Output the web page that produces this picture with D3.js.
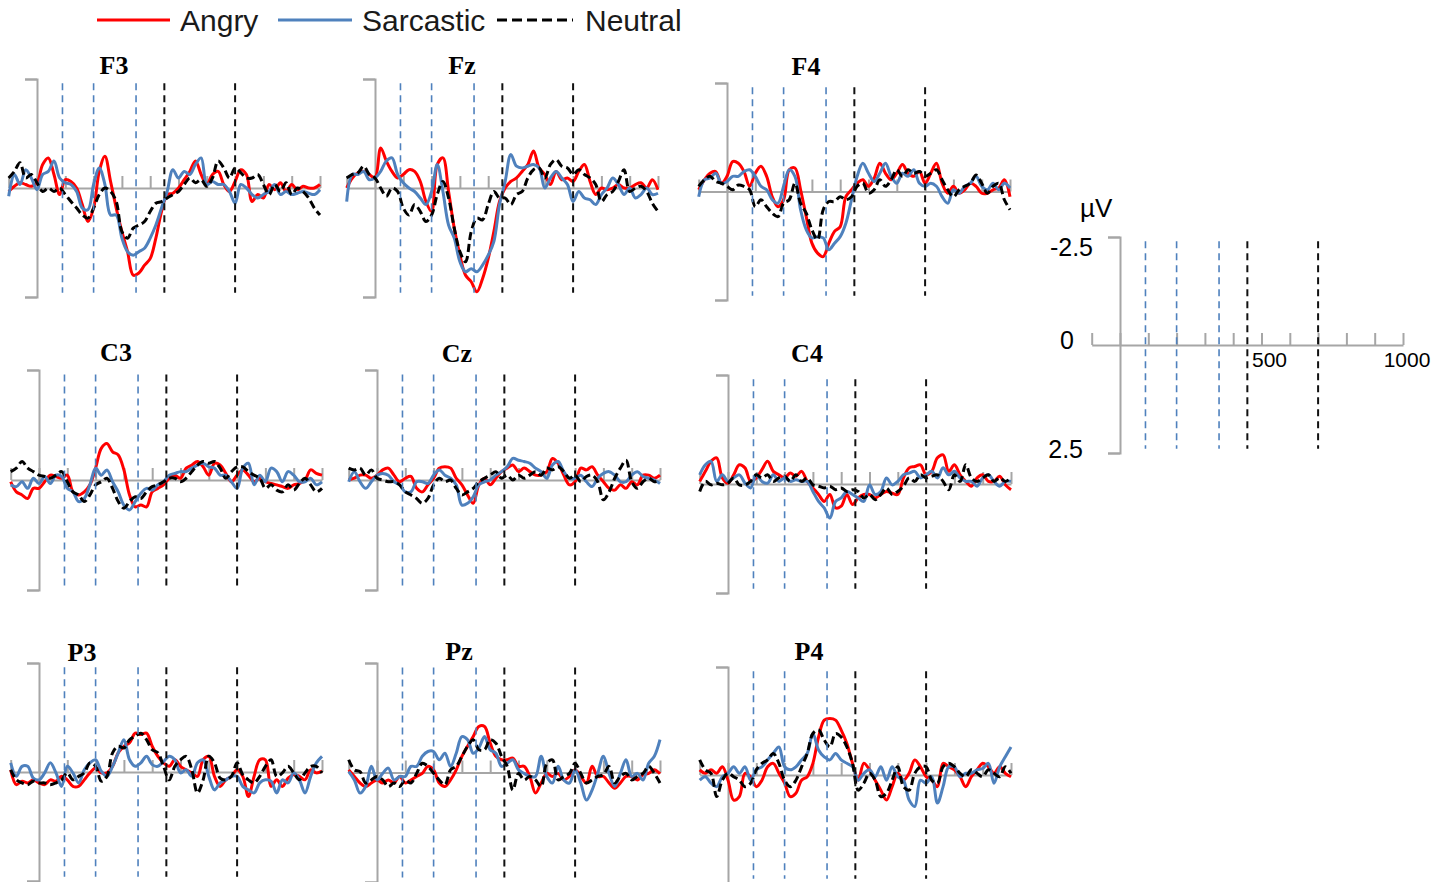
<!DOCTYPE html>
<html lang="en">
<head>
<meta charset="UTF-8">
<title>ERP waveforms</title>
<script src="https://d3js.org/d3.v7.min.js"></script>
<style>
  body { margin: 0; background: #fff; }
  svg { display: block; }
</style>
</head>
<body>
<svg id="chart" width="1450" height="882"></svg>
<script>
  // sampling grid (ms)
  var times = [-100, -80, -60, -40, -20, 0, 20, 40, 60, 80, 100, 120, 140, 160, 180, 200, 220, 240, 260, 280,
    300, 320, 340, 360, 380, 400, 420, 440, 460, 480, 500, 520, 540, 560, 580, 600, 620, 640, 660, 680,
    700, 720, 740, 760, 780, 800, 820, 840, 860, 880, 900, 920, 940, 960, 980, 1000];

  var xTicks = [-100, 0, 100, 200, 300, 400, 500, 600, 700, 800, 900, 1000];
  var xLabels = [500, 1000];
  var yLabels = [-2.5, 0, 2.5];
  var windowsBlue = [90, 200, 350];
  var windowsBlack = [450, 700];

  var conditions = ["Angry", "Sarcastic", "Neutral"];

  // amplitudes in µV (negative plotted up)
  var F3_angry = [0.08, -0.04, -0.12, -0.08, -0.04, -0.12, -0.54, -0.69, -0.31, 0.15, -0.19, -0.15, 0, 0.38, 0.77, 0.46, -0.38, -0.73, -0.15, 0.46,
    1.0, 1.46, 2.0, 1.95, 1.77, 1.62, 1.15, 0.54, 0.15, 0.12, 0, -0.19, -0.38, -0.62, -0.31, -0.08, -0.31, -0.38, -0.08, 0.08,
    -0.15, -0.42, -0.31, 0.31, 0.15, 0.23, -0.08, 0.04, -0.12, 0.08, -0.08, 0.04, -0.04, 0, 0, -0.08];
  var F3_sarcastic = [0.19, -0.31, -0.08, -0.42, -0.23, 0.04, -0.31, -0.38, -0.62, -0.23, -0.12, -0.08, 0.08, 0.46, 0.5, -0.08, -0.46, -0.08, 0.62, 0.62,
    1.15, 1.46, 1.54, 1.46, 1.38, 1.15, 0.85, 0.46, 0.08, -0.42, -0.23, -0.38, -0.31, -0.54, -0.69, -0.08, -0.15, -0.08, -0.08, 0.08,
    0.35, -0.08, 0, 0.15, 0.23, 0.15, 0.08, -0.08, 0.15, 0.08, 0.15, 0.12, 0.08, 0.12, 0.15, 0.04];
  var F3_neutral = [-0.23, -0.38, -0.58, -0.23, -0.31, -0.12, 0.08, 0, 0.08, 0, 0.15, 0.31, 0.46, 0.62, 0.69, 0.46, 0.15, 0, 0.08, 0.31,
    1.0, 1.15, 0.92, 0.85, 0.77, 0.54, 0.35, 0.31, 0.23, 0.15, 0.08, -0.08, -0.23, -0.12, -0.19, -0.04, -0.23, -0.62, -0.46, -0.23,
    -0.46, -0.35, -0.23, -0.23, -0.31, -0.08, 0.15, -0.08, 0.08, -0.12, 0.15, 0, 0.08, 0.23, 0.46, 0.62];

  var Fz_angry = [0, -0.23, -0.35, -0.38, -0.31, -0.23, -0.92, -0.62, -0.38, -0.23, -0.31, -0.42, -0.38, -0.15, 0.31, 0.54, -0.54, -0.69, 0.08, 0.92,
    1.54, 2.0, 2.15, 2.38, 2.08, 1.62, 1.0, 0.31, 0, -0.15, -0.23, -0.38, -0.54, -0.85, -0.46, -0.31, -0.08, -0.38, -0.19, -0.23,
    -0.15, -0.38, -0.54, -0.15, 0.15, 0, 0.04, 0, -0.08, 0, 0, -0.08, -0.12, 0, -0.19, 0.04];
  var Fz_sarcastic = [0.31, -0.31, -0.31, -0.38, -0.19, -0.23, -0.38, -0.62, -0.69, -0.31, -0.12, 0, 0.08, 0.23, 0.38, 0.08, -0.54, 0.08, 0.85, 1.15,
    1.69, 1.92, 1.85, 1.92, 1.77, 1.54, 1.23, 0.38, -0.15, -0.77, -0.5, -0.46, -0.5, -0.54, -0.46, 0, -0.23, -0.38, -0.23, -0.08,
    0.31, 0.08, 0.23, 0.27, 0.38, 0.15, 0, -0.23, -0.08, 0.15, 0, 0.23, 0.15, 0, 0.15, 0.12];
  var Fz_neutral = [-0.23, -0.31, -0.35, -0.5, -0.31, -0.23, 0, 0.19, 0, 0.08, 0.46, 0.62, 0.38, 0.54, 0.77, 0.62, 0.15, -0.15, 0.23, 0.92,
    1.46, 1.69, 1.0, 0.69, 0.73, 0.38, 0.08, 0.23, 0.23, 0.38, 0.15, 0.08, -0.23, -0.42, -0.46, -0.23, -0.54, -0.65, -0.5, -0.46,
    -0.31, -0.42, -0.31, -0.23, -0.08, 0.31, 0.15, 0.08, -0.15, -0.42, 0.08, 0, -0.04, 0.08, 0.35, 0.54];

  var F4_angry = [-0.04, -0.27, -0.42, -0.46, -0.19, -0.35, -0.69, -0.65, -0.46, -0.12, -0.42, -0.58, -0.35, 0.12, 0.35, 0.19, -0.5, -0.54, -0.04, 0.58,
    1.19, 1.42, 1.5, 1.19, 0.92, 0.81, 0.12, -0.04, -0.19, -0.27, -0.12, -0.31, -0.65, -0.42, -0.27, -0.42, -0.62, -0.42, -0.35, -0.46,
    -0.19, -0.42, -0.65, -0.19, 0.04, -0.12, 0.04, -0.04, -0.19, -0.12, 0.04, 0.04, -0.04, -0.08, -0.27, 0.12];
  var F4_sarcastic = [0.12, -0.27, -0.31, -0.42, -0.19, -0.23, -0.35, -0.35, -0.46, -0.5, -0.35, -0.12, -0.04, 0.19, 0.27, -0.12, -0.5, -0.35, 0.42, 0.88,
    1.07, 1.04, 1.07, 1.34, 1.19, 1.04, 0.73, 0.19, -0.35, -0.65, -0.42, -0.23, -0.42, -0.65, -0.35, -0.19, -0.42, -0.35, -0.5, -0.19,
    -0.12, -0.19, -0.12, 0.12, 0.27, -0.04, 0.04, -0.12, -0.19, -0.35, -0.12, -0.04, -0.19, -0.04, -0.19, -0.08];
  var F4_neutral = [-0.12, -0.27, -0.35, -0.23, -0.19, -0.12, -0.04, -0.15, -0.12, -0.04, 0.35, 0.19, 0.35, 0.5, 0.58, 0.27, 0.19, -0.19, 0.27, 0.5,
    0.88, 1.11, 0.42, 0.23, 0.23, 0.12, 0.19, 0.12, -0.12, -0.19, 0.04, -0.04, -0.27, -0.12, -0.27, -0.5, -0.35, -0.5, -0.42, -0.46,
    -0.35, -0.42, -0.5, -0.27, -0.04, 0.12, -0.04, -0.12, -0.19, -0.38, -0.19, 0.04, -0.12, -0.19, 0.19, 0.42];

  var C3_angry = [0.04, 0.27, 0.34, 0.42, 0.19, 0.19, 0.04, -0.11, -0.08, -0.04, -0.11, 0.27, 0.34, 0.27, 0.11, -0.27, -0.72, -0.83, -0.64, -0.57,
    -0.23, 0.34, 0.61, 0.57, 0.61, 0.27, 0.19, 0.11, -0.04, -0.11, -0.04, -0.27, -0.34, -0.42, -0.3, -0.11, -0.38, -0.34, -0.15, 0.04,
    -0.11, -0.23, -0.11, 0.04, -0.04, 0.04, 0.08, 0.11, 0.15, 0.19, 0.11, 0.08, 0, -0.23, -0.15, -0.11];
  var C3_sarcastic = [0.11, 0.15, 0.04, 0.19, -0.04, 0.08, -0.08, 0.08, -0.11, -0.08, 0.19, 0.27, 0.49, 0.42, 0.11, -0.27, -0.11, -0.23, 0.04, 0.27,
    0.57, 0.68, 0.49, 0.3, 0.19, 0.23, 0.11, 0.04, -0.11, -0.15, -0.19, -0.19, -0.27, -0.34, -0.38, -0.3, -0.27, -0.11, -0.11, 0.04,
    0.19, -0.27, -0.38, 0.11, -0.11, 0.04, -0.27, -0.19, 0.04, -0.19, -0.11, 0.04, 0.04, -0.04, 0.11, 0.04];
  var C3_neutral = [-0.19, -0.27, -0.42, -0.27, -0.19, -0.11, -0.08, -0.04, -0.11, -0.19, 0.04, 0.27, 0.34, 0.49, 0.34, 0.11, 0.04, -0.04, 0.19, 0.49,
    0.64, 0.49, 0.38, 0.42, 0.27, 0.15, 0.11, 0.04, -0.04, -0.04, 0.04, -0.04, -0.19, -0.34, -0.42, -0.38, -0.42, -0.27, -0.04, -0.19,
    -0.3, -0.3, -0.19, -0.11, -0.04, 0.19, 0.11, 0.23, 0.27, 0.11, 0.23, 0.08, -0.04, 0.11, 0.27, 0.19];

  var Cz_angry = [0, -0.04, -0.11, -0.11, -0.04, -0.11, -0.23, -0.27, -0.11, 0.04, -0.04, -0.08, 0.19, 0.27, 0.11, -0.04, -0.27, -0.3, -0.27, -0.04,
    0.11, 0.34, 0.53, 0.11, -0.04, 0.11, -0.04, -0.19, -0.27, -0.34, -0.19, -0.27, -0.19, -0.11, -0.11, -0.19, -0.49, -0.38, -0.11, 0.11,
    0.04, -0.27, -0.23, -0.3, -0.11, 0.04, 0.19, 0.23, 0.11, 0.19, 0.04, 0.11, -0.11, -0.11, -0.04, -0.11];
  var Cz_sarcastic = [0.04, -0.19, 0.04, 0.19, 0.04, -0.11, -0.15, -0.11, 0.04, 0.11, 0.27, 0.27, 0.04, 0.04, 0.08, -0.11, -0.23, -0.11, -0.04, 0.11,
    0.57, 0.53, 0.38, 0.11, 0.04, 0, -0.11, -0.19, -0.3, -0.49, -0.45, -0.42, -0.38, -0.27, -0.19, -0.04, -0.34, -0.42, -0.19, -0.04,
    -0.04, -0.11, 0.04, 0.15, -0.04, -0.15, -0.19, -0.11, 0.04, 0.04, -0.11, -0.19, -0.08, -0.04, 0, 0.08];
  var Cz_neutral = [-0.27, -0.23, -0.27, -0.11, -0.23, -0.04, 0, 0.04, 0.04, 0.11, 0.27, 0.34, 0.42, 0.53, 0.42, 0.11, -0.04, 0.04, 0, 0.19,
    0.34, 0.27, 0.19, 0.04, -0.04, -0.11, -0.19, -0.04, -0.11, 0, -0.11, -0.04, -0.11, -0.19, -0.11, -0.27, -0.23, -0.3, -0.19, -0.04,
    -0.11, 0.04, -0.08, -0.11, 0.04, 0.45, 0.27, -0.04, -0.27, -0.45, 0.04, 0.19, 0.04, -0.04, 0.04, 0];

  var C4_angry = [-0.06, -0.29, -0.52, -0.6, -0.14, -0.02, -0.21, -0.44, -0.37, -0.06, -0.14, -0.33, -0.52, -0.29, -0.21, -0.14, -0.25, -0.18, -0.29, -0.06,
    0.09, 0.24, 0.4, 0.24, 0.55, 0.51, 0.24, 0.47, 0.32, 0.24, 0.24, 0.32, 0.24, 0.17, 0.21, 0.24, -0.14, -0.37, -0.4, -0.44,
    -0.21, -0.29, -0.6, -0.67, -0.29, -0.44, -0.21, -0.06, 0.05, -0.14, -0.21, -0.06, -0.06, -0.18, 0.02, 0.13];
  var C4_sarcastic = [-0.21, -0.44, -0.52, -0.06, -0.21, -0.06, -0.14, -0.21, -0.02, 0.09, -0.21, -0.06, -0.02, -0.21, -0.06, -0.14, -0.06, -0.1, -0.06, -0.06,
    0.17, 0.4, 0.55, 0.78, 0.4, 0.32, 0.17, 0.24, 0.32, 0.4, 0.02, 0.24, 0.17, -0.14, 0.02, -0.06, -0.21, -0.25, -0.29, -0.14,
    -0.21, -0.29, -0.14, -0.37, -0.21, -0.29, -0.14, -0.06, -0.06, 0.05, -0.14, -0.21, -0.06, 0.05, -0.06, -0.06];
  var C4_neutral = [0.17, -0.06, 0.02, -0.02, 0.02, -0.02, -0.14, 0.02, 0.02, -0.06, -0.21, -0.14, -0.21, -0.06, -0.14, -0.18, -0.06, -0.21, -0.06, -0.14,
    0.02, 0.05, 0.09, 0.05, 0.13, 0.09, 0.17, 0.13, 0.17, 0.32, 0.24, 0.36, 0.24, 0.09, 0.24, 0.17, 0.05, -0.14, -0.06, -0.21,
    -0.14, -0.18, -0.21, -0.06, 0.13, -0.21, -0.06, -0.44, -0.14, -0.06, -0.14, -0.21, -0.06, -0.14, -0.06, -0.14];

  var P3_angry = [-0.05, 0.29, 0.21, 0.25, 0.18, 0.25, 0.29, 0.18, 0.21, 0.1, 0.18, 0.33, 0.33, 0.18, 0.02, -0.09, 0.02, 0.02, -0.13, -0.44,
    -0.59, -0.67, -0.89, -0.86, -0.89, -0.59, -0.36, -0.21, -0.13, -0.28, -0.13, -0.05, 0.02, 0.1, -0.28, -0.36, 0.1, 0.33, 0.18, 0.1,
    -0.05, 0.1, 0.56, 0.1, -0.28, -0.28, 0.33, 0.18, 0.33, 0.14, 0.06, 0.1, 0.18, -0.05, 0.02, -0.02];
  var P3_sarcastic = [-0.21, 0.1, -0.13, -0.13, 0.14, 0.18, 0.02, -0.21, 0.02, 0.33, -0.13, 0.02, 0.25, -0.05, -0.21, -0.28, -0.02, 0.1, -0.13, -0.44,
    -0.74, -0.28, -0.13, -0.21, -0.36, -0.17, -0.13, -0.24, -0.36, -0.28, 0.02, -0.05, 0.1, -0.21, -0.28, 0.1, 0.41, 0.25, 0.18, 0.1,
    0.1, 0.33, 0.41, 0.48, 0.25, 0.18, 0.21, 0.48, 0.18, 0.25, 0.02, 0.18, 0.48, 0.1, -0.21, -0.36];
  var P3_neutral = [-0.05, 0.18, 0.25, 0.29, 0.21, 0.25, 0.25, 0.29, 0.25, 0.18, 0.02, 0.18, 0.1, 0.02, -0.21, -0.13, 0.21, 0.1, -0.44, -0.59,
    -0.55, -0.74, -0.82, -0.89, -0.74, -0.51, -0.44, -0.13, 0.18, -0.13, -0.28, -0.36, -0.05, 0.48, 0.18, -0.36, -0.21, 0.14, 0.18, 0.1,
    -0.21, 0.06, 0.18, 0.25, 0.1, -0.13, -0.28, 0.1, 0.02, -0.13, 0.02, 0.18, 0.02, -0.13, -0.13, 0.02];

  var Pz_angry = [-0.06, 0.09, 0.24, 0.32, 0.24, 0.17, 0.24, 0.17, 0.24, 0.09, 0.24, 0.17, 0.09, 0.02, -0.14, -0.06, 0.24, 0.32, 0.17, -0.06,
    -0.37, -0.6, -0.82, -1.05, -1.05, -0.67, -0.37, -0.29, -0.29, -0.33, -0.14, -0.14, 0.09, 0.47, 0.24, 0.02, 0.09, 0.02, 0.17, 0.09,
    -0.06, 0.09, 0.24, -0.14, 0.09, 0.09, 0.24, 0.36, 0.24, 0.09, 0.09, 0.17, 0.05, 0.02, -0.06, 0.03];
  var Pz_sarcastic = [-0.02, 0.17, 0.47, 0.32, -0.14, 0.17, 0.02, -0.1, 0.17, 0.09, 0.09, -0.14, -0.14, -0.37, -0.48, -0.48, -0.29, -0.44, -0.14, -0.44,
    -0.82, -0.75, -0.44, -0.56, -0.82, -0.52, -0.44, -0.14, -0.21, -0.29, -0.06, 0.02, 0.09, 0.09, -0.37, 0.09, 0.24, -0.14, 0.17, 0.24,
    -0.06, 0.24, 0.63, 0.4, 0.02, -0.37, 0.02, 0.32, 0.02, -0.29, 0.09, 0.02, 0.17, -0.21, -0.37, -0.75];
  var Pz_neutral = [-0.29, -0.06, -0.02, 0.24, 0.17, 0.09, 0.17, 0.32, 0.24, 0.32, 0.17, 0.24, 0.02, -0.21, -0.14, 0.02, 0.17, 0.28, -0.06, -0.14,
    -0.37, -0.6, -0.75, -0.52, -0.52, -0.75, -0.67, -0.37, -0.14, 0.4, 0.02, 0.17, 0.09, 0.17, 0.32, -0.21, -0.29, 0.17, 0.09, 0.02,
    -0.21, 0.02, 0.24, 0.17, 0.09, 0.05, -0.14, 0.24, 0.09, 0.02, 0.17, 0.09, 0.02, -0.14, 0.02, 0.24];

  var P4_angry = [-0.12, -0.04, -0.12, -0.04, -0.19, 0.12, 0.58, 0.5, -0.04, 0.04, 0.27, 0.12, -0.19, -0.27, -0.04, 0.19, 0.5, 0.42, 0.12, 0.04,
    -0.27, -0.88, -1.27, -1.31, -1.27, -1.04, -0.73, -0.27, 0.12, -0.27, -0.12, 0.12, 0.35, 0.58, 0.27, -0.04, 0.12, -0.04, -0.35, -0.19,
    0.04, 0.12, 0.27, -0.27, -0.19, -0.12, 0.04, 0.27, 0.04, -0.12, -0.27, -0.19, -0.04, -0.19, -0.04, 0.04];
  var P4_sarcastic = [0.12, 0.04, 0.19, 0.27, 0.04, -0.04, -0.19, -0.04, -0.19, 0.12, -0.12, -0.19, -0.35, -0.5, -0.65, -0.19, -0.12, -0.19, -0.35, -0.5,
    -0.96, -0.58, -0.42, -0.35, -0.5, -0.35, -0.27, -0.19, 0.12, -0.04, -0.12, 0.04, -0.19, 0.12, -0.19, 0.04, 0.12, 0.58, 0.73, 0.12,
    0.19, 0.04, 0.65, 0.27, -0.19, -0.19, 0.04, -0.04, -0.04, -0.12, -0.15, -0.27, 0.19, -0.19, -0.42, -0.65];
  var P4_neutral = [-0.35, -0.12, -0.04, 0.5, 0.12, -0.04, 0.04, 0.12, 0.27, 0.19, -0.12, -0.27, -0.35, -0.5, -0.27, 0.12, 0.27, 0.12, -0.19, -0.5,
    -0.96, -1.04, -0.81, -0.65, -0.96, -0.88, -0.65, -0.27, 0.35, 0.19, -0.04, 0.12, 0.5, 0.42, 0.12, -0.19, 0.27, 0.35, -0.04, -0.19,
    -0.19, 0.12, 0.19, -0.19, -0.27, -0.19, -0.04, 0.04, -0.12, -0.04, 0.04, -0.12, -0.04, 0.04, -0.19, -0.04];

  // panel layout: x of the 0 ms axis, top / bottom of the ±2.5 µV axis, title position
  var panels = [
    {name: "F3", x0: 37, top: 79, bottom: 297, tx: 114, ty: 74, series: [F3_angry, F3_sarcastic, F3_neutral]},
    {name: "Fz", x0: 375, top: 79, bottom: 297, tx: 462, ty: 74, series: [Fz_angry, Fz_sarcastic, Fz_neutral]},
    {name: "F4", x0: 727, top: 83, bottom: 300, tx: 806, ty: 75, series: [F4_angry, F4_sarcastic, F4_neutral]},
    {name: "C3", x0: 39, top: 370, bottom: 590, tx: 116, ty: 361, series: [C3_angry, C3_sarcastic, C3_neutral]},
    {name: "Cz", x0: 377, top: 370, bottom: 590, tx: 457, ty: 362, series: [Cz_angry, Cz_sarcastic, Cz_neutral]},
    {name: "C4", x0: 728, top: 375, bottom: 593, tx: 807, ty: 362, series: [C4_angry, C4_sarcastic, C4_neutral]},
    {name: "P3", x0: 39, top: 663, bottom: 881, tx: 82, ty: 661, series: [P3_angry, P3_sarcastic, P3_neutral]},
    {name: "Pz", x0: 377, top: 663, bottom: 882, tx: 459, ty: 660, series: [Pz_angry, Pz_sarcastic, Pz_neutral]},
    {name: "P4", x0: 728, top: 667, bottom: 883, tx: 809, ty: 660, series: [P4_angry, P4_sarcastic, P4_neutral]}
  ];

  var color = d3.scaleOrdinal().domain(conditions).range(["#ff0000", "#4f81bd", "#000000"]);
  var dash = {"Angry": null, "Sarcastic": null, "Neutral": "8,4"};
  var axisGray = "#a6a6a6";
  var msPx = 0.283;

  var svg = d3.select("#chart");

  function drawFrame(g, x, y) {
    var ya = g.append("g")
      .attr("transform", "translate(" + x(0) + ",0)")
      .call(d3.axisLeft(y).tickValues([-2.5, 2.5]).tickSize(12).tickFormat(""));
    var xa = g.append("g")
      .attr("transform", "translate(0," + y(0) + ")")
      .call(d3.axisTop(x).tickValues(xTicks).tickSize(12).tickSizeOuter(0).tickFormat(""));
    [ya, xa].forEach(function (a) {
      a.selectAll("path, line").attr("stroke", axisGray).attr("stroke-width", 2);
    });
  }

  function drawWindows(g, x, y) {
    g.selectAll("line.wb")
      .data(windowsBlue)
      .enter()
      .append("line")
      .attr("class", "wb")
      .attr("x1", function (d) { return x(d); })
      .attr("x2", function (d) { return x(d); })
      .attr("y1", y(-2.4))
      .attr("y2", y(2.4))
      .attr("stroke", "#4f81bd")
      .attr("stroke-width", 1.6)
      .attr("stroke-dasharray", "7,5");
    g.selectAll("line.wk")
      .data(windowsBlack)
      .enter()
      .append("line")
      .attr("class", "wk")
      .attr("x1", function (d) { return x(d); })
      .attr("x2", function (d) { return x(d); })
      .attr("y1", y(-2.4))
      .attr("y2", y(2.4))
      .attr("stroke", "#111")
      .attr("stroke-width", 2)
      .attr("stroke-dasharray", "7,5");
  }

  panels.forEach(function (p) {
    var x = d3.scaleLinear().domain([-100, 1000]).range([p.x0 - 100 * msPx, p.x0 + 1000 * msPx]);
    var y = d3.scaleLinear().domain([-2.5, 2.5]).range([p.top, p.bottom]);
    var g = svg.append("g");

    drawFrame(g, x, y);

    var line = d3.line()
      .x(function (d, i) { return x(times[i]); })
      .y(function (d) { return y(d); })
      .curve(d3.curveCatmullRom.alpha(0.5));

    g.selectAll("path.wave")
      .data(p.series)
      .enter()
      .append("path")
      .attr("class", "wave")
      .attr("d", line)
      .attr("fill", "none")
      .attr("stroke", function (d, i) { return color(conditions[i]); })
      .attr("stroke-width", 3)
      .attr("stroke-linejoin", "round")
      .attr("stroke-dasharray", function (d, i) { return dash[conditions[i]]; });

    drawWindows(g, x, y);

    g.append("text")
      .attr("x", p.tx)
      .attr("y", p.ty)
      .attr("text-anchor", "middle")
      .style("font-family", "'Liberation Serif', 'Times New Roman', serif")
      .style("font-weight", "bold")
      .style("font-size", "26px")
      .text(p.name);
  });

  // scale panel
  (function () {
    var x0 = 1120;
    var x = d3.scaleLinear().domain([-100, 1000]).range([x0 - 100 * msPx, x0 + 1000 * msPx]);
    var y = d3.scaleLinear().domain([-2.5, 2.5]).range([237, 453]);
    var g = svg.append("g");
    drawFrame(g, x, y);
    drawWindows(g, x, y);

    var font = "'Liberation Sans', Arial, sans-serif";
    var yOff = {"-2.5": 10, "0": -5, "2.5": -4};
    var xOff = {"-2.5": -27, "0": -46, "2.5": -37};
    g.selectAll("text.yl")
      .data(yLabels)
      .enter()
      .append("text")
      .attr("class", "yl")
      .attr("x", function (d) { return x0 + xOff[String(d)]; })
      .attr("y", function (d) { return y(d) + yOff[String(d)]; })
      .attr("dy", "0.35em")
      .attr("text-anchor", "end")
      .style("font-family", font)
      .style("font-size", "25px")
      .text(function (d) { return String(d); });

    g.selectAll("text.xl")
      .data(xLabels)
      .enter()
      .append("text")
      .attr("class", "xl")
      .attr("x", function (d) { return x(d) + (d === 500 ? 8 : 4); })
      .attr("y", y(0) + 22)
      .attr("text-anchor", "middle")
      .style("font-family", font)
      .style("font-size", "21px")
      .text(function (d) { return d; });

    g.append("text")
      .attr("x", 1080)
      .attr("y", 217)
      .style("font-family", font)
      .style("font-size", "26px")
      .text("µV");
  })();

  // legend
  var legendItems = [
    {name: "Angry", x1: 97, x2: 170, tx: 180},
    {name: "Sarcastic", x1: 278, x2: 352, tx: 362},
    {name: "Neutral", x1: 497, x2: 573, tx: 585}
  ];
  var lg = svg.append("g");
  lg.selectAll("line")
    .data(legendItems)
    .enter()
    .append("line")
    .attr("x1", function (d) { return d.x1; })
    .attr("x2", function (d) { return d.x2; })
    .attr("y1", 20)
    .attr("y2", 20)
    .attr("stroke", function (d) { return color(d.name); })
    .attr("stroke-width", 3)
    .attr("stroke-dasharray", function (d) { return d.name === "Neutral" ? "10,5" : null; });
  lg.selectAll("text")
    .data(legendItems)
    .enter()
    .append("text")
    .attr("x", function (d) { return d.tx; })
    .attr("y", 31)
    .style("font-family", "'Liberation Sans', Arial, sans-serif")
    .style("font-size", "30px")
    .style("fill", "#1a1a1a")
    .text(function (d) { return d.name; });
</script>
</body>
</html>
